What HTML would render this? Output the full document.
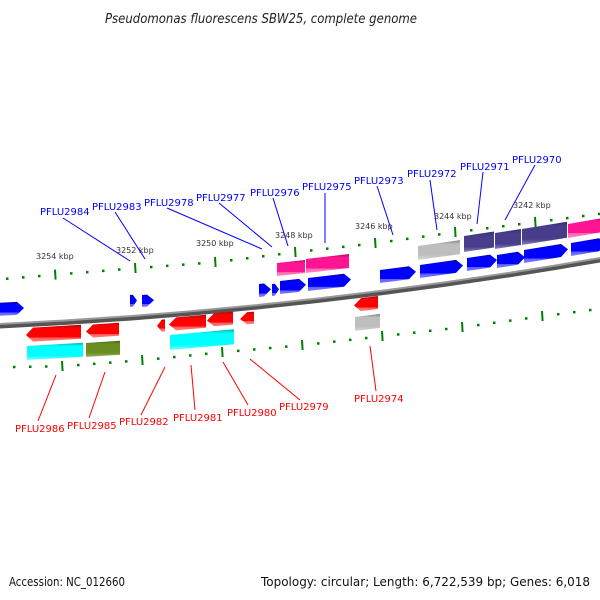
<!DOCTYPE html>
<html><head><meta charset="utf-8">
<style>
html,body{margin:0;padding:0;background:#fff;}
svg{display:block;}
text{font-family:"DejaVu Sans","Liberation Sans",sans-serif;}
</style></head>
<body>
<svg id="s" width="600" height="600" viewBox="0 0 600 600" xmlns="http://www.w3.org/2000/svg">
<defs>
<linearGradient id="gblue" x1="0" y1="0" x2="0" y2="1"><stop offset="0" stop-color="#0000b0"/><stop offset="0.2" stop-color="#0000ff"/><stop offset="0.75" stop-color="#0000ff"/><stop offset="0.76" stop-color="#5a5aff"/><stop offset="1" stop-color="#8080ff"/></linearGradient>
<linearGradient id="gred" x1="0" y1="0" x2="0" y2="1"><stop offset="0" stop-color="#b00000"/><stop offset="0.2" stop-color="#ff0000"/><stop offset="0.75" stop-color="#ff0000"/><stop offset="0.76" stop-color="#ff5a5a"/><stop offset="1" stop-color="#ff8080"/></linearGradient>
<linearGradient id="gpink" x1="0" y1="0" x2="0" y2="1"><stop offset="0" stop-color="#b01068"/><stop offset="0.2" stop-color="#ff1493"/><stop offset="0.75" stop-color="#ff1493"/><stop offset="0.76" stop-color="#ff60b0"/><stop offset="1" stop-color="#ff90c8"/></linearGradient>
<linearGradient id="gcyan" x1="0" y1="0" x2="0" y2="1"><stop offset="0" stop-color="#00b0b0"/><stop offset="0.2" stop-color="#00ffff"/><stop offset="0.75" stop-color="#00ffff"/><stop offset="1" stop-color="#80ffff"/></linearGradient>
<linearGradient id="golive" x1="0" y1="0" x2="0" y2="1"><stop offset="0" stop-color="#4a6010"/><stop offset="0.2" stop-color="#6b8e23"/><stop offset="0.75" stop-color="#6b8e23"/><stop offset="1" stop-color="#a0b870"/></linearGradient>
<linearGradient id="gpurp" x1="0" y1="0" x2="0" y2="1"><stop offset="0" stop-color="#302870"/><stop offset="0.2" stop-color="#483d8b"/><stop offset="0.75" stop-color="#483d8b"/><stop offset="1" stop-color="#8a82c0"/></linearGradient>
<linearGradient id="ggrey" x1="0" y1="0" x2="0" y2="1"><stop offset="0" stop-color="#808080"/><stop offset="0.2" stop-color="#bebebe"/><stop offset="0.75" stop-color="#bebebe"/><stop offset="1" stop-color="#dcdcdc"/></linearGradient>
</defs>
<text x="105" y="23" font-size="13" font-style="italic" textLength="312" lengthAdjust="spacingAndGlyphs" fill="#222">Pseudomonas fluorescens SBW25, complete genome</text>
<path d="M0,326 Q300,312 600,260" stroke="#555" stroke-width="5" fill="none"/>
<path d="M0,324 Q300,310 600,258" stroke="#999" stroke-width="2" fill="none"/>
<g id="genes"></g>
<g id="ticks"></g>
<g font-size="8" fill="#333">
<text x="36" y="259">3254 kbp</text>
<text x="116" y="253">3252 kbp</text>
<text x="196" y="246">3250 kbp</text>
<text x="275" y="238">3248 kbp</text>
<text x="355" y="229">3246 kbp</text>
<text x="434" y="219">3244 kbp</text>
<text x="513" y="208">3242 kbp</text>
</g>
<g stroke="#0000ff" stroke-width="1">
<line x1="63" y1="218" x2="130" y2="261"/>
<line x1="115" y1="212" x2="145" y2="259"/>
<line x1="167" y1="208" x2="262" y2="249"/>
<line x1="219" y1="203" x2="272" y2="247"/>
<line x1="273" y1="198" x2="288" y2="246"/>
<line x1="325" y1="193" x2="325" y2="243"/>
<line x1="377" y1="186" x2="393" y2="235"/>
<line x1="430" y1="180" x2="437" y2="230"/>
<line x1="483" y1="172" x2="477" y2="224"/>
<line x1="535" y1="165" x2="505" y2="220"/>
</g>
<g font-size="10" fill="#0000ff">
<text x="40" y="215">PFLU2984</text>
<text x="92" y="210">PFLU2983</text>
<text x="144" y="206">PFLU2978</text>
<text x="196" y="201">PFLU2977</text>
<text x="250" y="196">PFLU2976</text>
<text x="302" y="190">PFLU2975</text>
<text x="354" y="184">PFLU2973</text>
<text x="407" y="177">PFLU2972</text>
<text x="460" y="170">PFLU2971</text>
<text x="512" y="163">PFLU2970</text>
</g>
<g stroke="#ff0000" stroke-width="1">
<line x1="56" y1="375" x2="38" y2="421"/>
<line x1="105" y1="372" x2="89" y2="418"/>
<line x1="165" y1="367" x2="141" y2="415"/>
<line x1="191" y1="365" x2="195" y2="410"/>
<line x1="223" y1="362" x2="248" y2="405"/>
<line x1="250" y1="359" x2="300" y2="400"/>
<line x1="370" y1="346" x2="376" y2="391"/>
</g>
<g font-size="10" fill="#ff0000">
<text x="15" y="432">PFLU2986</text>
<text x="67" y="429">PFLU2985</text>
<text x="119" y="425">PFLU2982</text>
<text x="173" y="421">PFLU2981</text>
<text x="227" y="416">PFLU2980</text>
<text x="279" y="410">PFLU2979</text>
<text x="354" y="402">PFLU2974</text>
</g>
<text x="9" y="586" font-size="12" fill="#111" textLength="116" lengthAdjust="spacingAndGlyphs">Accession: NC_012660</text>
<text x="261" y="586" font-size="12" fill="#111" textLength="329" lengthAdjust="spacingAndGlyphs">Topology: circular; Length: 6,722,539 bp; Genes: 6,018</text>
</svg>
<script>
(function(){
var NS="http://www.w3.org/2000/svg";
function sl(x){return -0.047-0.127*(x/600);}
function add(g,tag,attrs){var e=document.createElementNS(NS,tag);for(var k in attrs)e.setAttribute(k,attrs[k]);g.appendChild(e);return e;}
var G=document.getElementById("genes");
var genes=[
[-6,24,303,316,1,"gblue",13],
[130,137,295,307,1,"gblue",12],[142,154,294,307,1,"gblue",12],
[259,271,283,297,1,"gblue",13],[272,279,283,296,1,"gblue",12],[280,306,280,294,1,"gblue",13],[308,351,275,291,1,"gblue",13],
[380,416,267,283,1,"gblue",13],[420,463,261,278,1,"gblue",13],[467,497,256,271,1,"gblue",13],[497,525,252,268,1,"gblue",13],[524,568,246,263,1,"gblue",13],[571,606,240,256,1,"gblue",13],
[277,305,261,276,0,"gpink",13],[306,349,256,273,0,"gpink",14],[568,606,222,238,0,"gpink",14],
[418,460,243,260,0,"ggrey",14],
[464,494,234,252,0,"gpurp",16],[495,521,231,249,0,"gpurp",16],[522,567,227,245,0,"gpurp",16],
[26,81,325,342,-1,"gred",14],[86,119,323,338,-1,"gred",13],[157,165,319,332,-1,"gred",12],[169,206,316,331,-1,"gred",13],[207,233,313,327,-1,"gred",13],[240,254,311,325,-1,"gred",12],[354,378,297,312,-1,"gred",13],
[27,83,344,360,0,"gcyan",14],[170,234,331,350,0,"gcyan",15],
[86,120,341,357,0,"golive",14],
[355,380,315,331,0,"ggrey",14]
];
genes.forEach(function(g){
var x1=g[0],x2=g[1],s=sl((x1+x2)/2),w=x2-x1;
var h=g[6],t=g[3]-h;
function y(x,off){return t+s*(x-x1)+off;}
var a=Math.min(7,w*0.6),pts;
if(g[4]==1){pts=[[x1,y(x1,0)],[x2-a,y(x2-a,0)],[x2,y(x2,h/2)],[x2-a,y(x2-a,h)],[x1,y(x1,h)]];}
else if(g[4]==-1){pts=[[x1,y(x1,h/2)],[x1+a,y(x1+a,0)],[x2,y(x2,0)],[x2,y(x2,h)],[x1+a,y(x1+a,h)]];}
else{pts=[[x1,y(x1,0)],[x2,y(x2,0)],[x2,y(x2,h)],[x1,y(x1,h)]];}
add(G,"polygon",{points:pts.map(function(p){return p[0].toFixed(1)+","+p[1].toFixed(1);}).join(" "),fill:"url(#"+g[5]+")"});
});
var T=document.getElementById("ticks");
function row(pts,start,majors){
function yy(x){for(var i=0;i<pts.length-1;i++){if(x<=pts[i+1][0]){var f=(x-pts[i][0])/(pts[i+1][0]-pts[i][0]);return pts[i][1]+f*(pts[i+1][1]-pts[i][1]);}}return pts[pts.length-1][1];}
for(var x=start;x<=604;x+=16){
var maj=majors.some(function(m){return Math.abs(m-x)<3;});
var y=yy(x);
if(maj)add(T,"line",{x1:x,y1:y-5,x2:x+0.6,y2:y+5,stroke:"#008000","stroke-width":2});
else add(T,"rect",{x:x-1,y:y-1,width:2.5,height:2.5,fill:"#008000"});
}}
row([[0,279],[135,268],[215,262],[295,252],[375,243],[455,232],[535,222],[620,211]],7,[55,135,215,295,375,455,535]);
row([[0,367],[62,366],[142,360],[222,352],[302,345],[382,336],[462,327],[542,316],[620,306]],14,[62,142,222,302,382,462,542]);
})();
</script>
</body></html>
